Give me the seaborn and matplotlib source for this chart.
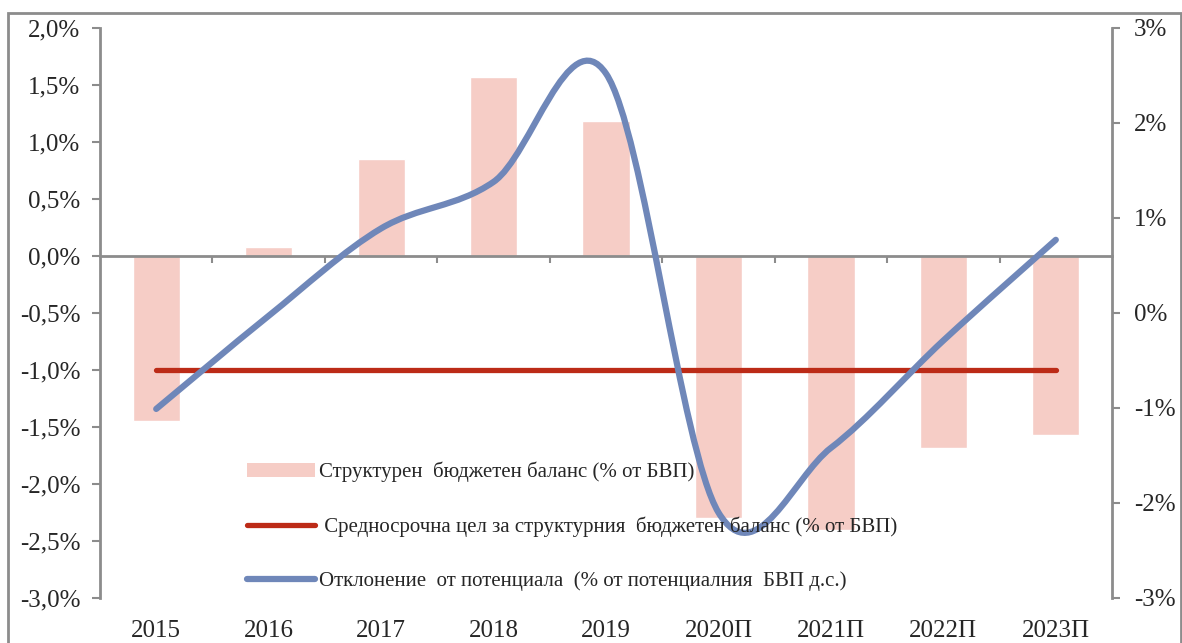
import numpy as np
import pandas as pd
import matplotlib
matplotlib.use('Agg')
import matplotlib.pyplot as plt
import seaborn as sns
from matplotlib.path import Path
from matplotlib.patches import PathPatch, Patch, Rectangle
from matplotlib.lines import Line2D
from matplotlib.ticker import FuncFormatter, MultipleLocator

# data
years = ['2015', '2016', '2017', '2018', '2019', '2020П', '2021П', '2022П', '2023П']
struct_balance = [-1.45, 0.08, 0.85, 1.57, 1.18, -2.30, -2.40, -1.68, -1.57]  # left axis, % of GDP
mtbo = [-1.0, -1.0, -1.0, -1.0, -1.0, -1.0, -1.0, -1.0, -1.0]                # left axis
output_gap = [-1.01, -0.03, 0.89, 1.38, 2.52, -2.10, -1.42, -0.29, 0.77]    # right axis

labels = ['Структурен  бюджетен баланс (% от БВП)',
          ' Средносрочна цел за структурния  бюджетен баланс (% от БВП)',
          'Отклонение  от потенциала  (% от потенциалния  БВП д.с.)']

bar_col = '#F6CDC6'
red = '#BC2B17'
blue = '#6F87B9'
grey = '#8C8C8C'

sns.set_style('white')
plt.rcParams['font.family'] = ['Liberation Serif', 'DejaVu Serif']

fig, ax = plt.subplots(figsize=(11.82, 6.43), dpi=100)
fig.subplots_adjust(left=0.0846, right=0.9408, top=0.9565, bottom=0.07)

df = pd.DataFrame({'year': years, 'bal': struct_balance})
sns.barplot(data=df, x='year', y='bal', color=bar_col, width=0.42,
            saturation=1, ax=ax, zorder=1)
sns.lineplot(x=np.arange(len(years)), y=mtbo, color=red, lw=3.8,
             solid_capstyle='round', ax=ax, zorder=3)
ax.set_ylim(-3, 2)
ax.set_xlim(-0.5, len(years) - 0.5)
ax.set_xlabel('')
ax.set_ylabel('')

# smoothed line like Excel (bezier through the points)
ax2 = ax.twinx()
n = len(output_gap)
P = np.column_stack([np.arange(n), output_gap]).astype(float)
verts = [tuple(P[0])]
codes = [Path.MOVETO]
for i in range(n - 1):
    p0 = P[max(i - 1, 0)]
    p1 = P[i]
    p2 = P[i + 1]
    p3 = P[min(i + 2, n - 1)]
    c1 = p1 + (p2 - p0) / 6
    c2 = p2 - (p3 - p1) / 6
    verts += [tuple(c1), tuple(c2), tuple(p2)]
    codes += [Path.CURVE4] * 3
ax2.add_patch(PathPatch(Path(verts, codes), fill=False, ec=blue, lw=4.5,
                        capstyle='round', zorder=4))
ax2.set_ylim(-3, 3)

# left axis
ax.yaxis.set_major_locator(MultipleLocator(0.5))
ax.yaxis.set_major_formatter(FuncFormatter(
    lambda v, p: ('%.1f%%' % (0 if abs(v) < 1e-9 else v)).replace('.', ',')))
ax.tick_params(axis='y', direction='out', length=6, width=1.5, color=grey,
               labelsize=18, pad=8, left=True)
# right axis
ax2.yaxis.set_major_locator(MultipleLocator(1))
ax2.yaxis.set_major_formatter(FuncFormatter(lambda v, p: '%d%%' % round(v)))
ax2.tick_params(axis='y', direction='out', length=6, width=1.5, color=grey,
                labelsize=18, pad=10, right=True)

for s in ['top', 'right']:
    ax.spines[s].set_visible(False)
for s in ['top', 'left', 'bottom']:
    ax2.spines[s].set_visible(False)
ax.spines['left'].set_color(grey)
ax.spines['left'].set_linewidth(2)
ax2.spines['right'].set_color(grey)
ax2.spines['right'].set_linewidth(2)
ax.spines['bottom'].set_position(('data', 0))
ax.spines['bottom'].set_color(grey)
ax.spines['bottom'].set_linewidth(2)

# category boundary ticks on the zero line, labels at the bottom
ax.set_xticks(np.arange(len(years) - 1) + 0.5)
ax.set_xticklabels([''] * (len(years) - 1))
ax.tick_params(axis='x', direction='out', length=5, width=1.5, color=grey, bottom=True)
sec = ax.secondary_xaxis('bottom')
sec.set_xticks(np.arange(len(years)), labels=years)
sec.tick_params(length=0, labelsize=18, pad=16)
sec.spines['bottom'].set_visible(False)

handles = [Patch(fc=bar_col, ec='none'),
           Line2D([], [], color=red, lw=3.8, solid_capstyle='round'),
           Line2D([], [], color=blue, lw=4.5, solid_capstyle='round')]
ax2.legend(handles, labels, loc='center left', bbox_to_anchor=(0.145, 0.125),
           frameon=False, fontsize=15, handlelength=3.3, handletextpad=0.15,
           labelspacing=1.65, borderpad=0, borderaxespad=0)

# outer chart frame
fig.patches.append(Rectangle((8 / 1182, -0.1), (1181 - 8) / 1182, 1.1 - 13 / 643,
                             transform=fig.transFigure, fill=False, ec=grey, lw=2))

fig.savefig('out.png', dpi=100)
